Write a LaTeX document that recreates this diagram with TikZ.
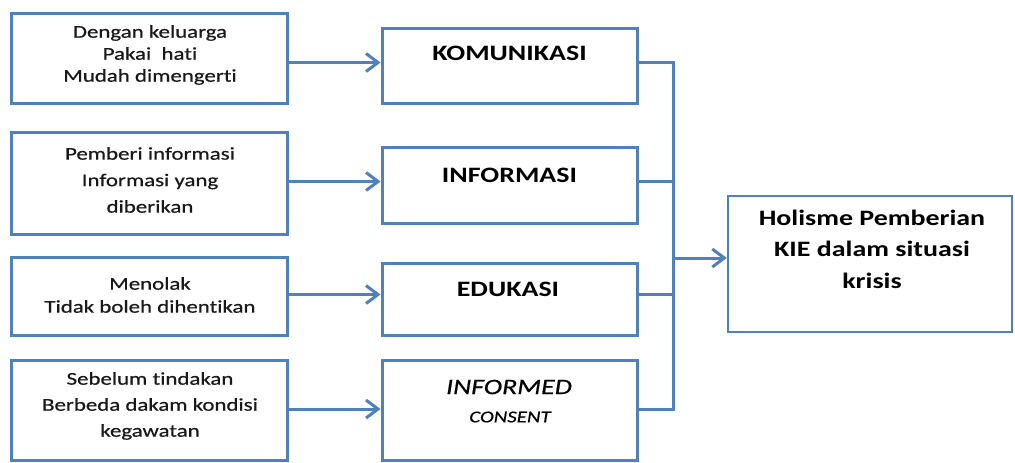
\documentclass[tikz,border=0pt]{standalone}
\usepackage{fontspec}
\setmainfont{Carlito}[FakeStretch=1.27, Ligatures=NoCommon]
\newfontfamily\lfont{Carlito}[FakeStretch=1.27, FakeBold=0.6, Ligatures=NoCommon]
\usetikzlibrary{arrows.meta}
\definecolor{kblue}{HTML}{4F81BD}
\begin{document}
\begin{tikzpicture}[x=1pt,y=-1pt,
  box/.style={draw=kblue, line width=3pt, rectangle, inner sep=0pt},
  lefttext/.style={align=center, inner sep=0pt, text=black!90},
  midtext/.style={align=center, inner sep=0pt, text=black, font=\fontsize{22}{26}\selectfont\bfseries},
  conn/.style={draw=kblue, line width=3pt},
  arr/.style={conn, -{Straight Barb[length=12pt,width=18pt]}}]
\useasboundingbox (0,0) rectangle (1015,463);

% left boxes
\node[box, minimum width=276pt, minimum height=90pt]  (L1) at (149,58) {};
\node[box, minimum width=276pt, minimum height=102pt] (L2) at (149,183) {};
\node[box, minimum width=276pt, minimum height=78pt]  (L3) at (149,296) {};
\node[box, minimum width=276pt, minimum height=100pt] (L4) at (149,410) {};

% middle boxes
\node[box, minimum width=255pt, minimum height=75pt]  (M1) at (509.5,65.5) {};
\node[box, minimum width=255pt, minimum height=76pt]  (M2) at (509.5,185) {};
\node[box, minimum width=255pt, minimum height=72pt]  (M3) at (509.5,299) {};
\node[box, minimum width=255pt, minimum height=100pt] (M4) at (509.5,410) {};

% right box
\node[box, line width=2.4pt, minimum width=284pt, minimum height=136pt] (R) at (870,264) {};

% texts
\node[lefttext, font=\lfont\fontsize{18}{22}\selectfont] (t1) at (150,55) {Dengan keluarga\\Pakai\ \ hati\\Mudah dimengerti};
\node[lefttext, font=\lfont\fontsize{18}{26.5}\selectfont] (t2) at (150,180) {Pemberi informasi\\Informasi yang\\diberikan};
\node[lefttext, font=\lfont\fontsize{18}{23}\selectfont] (t3) at (150,295) {Menolak\\Tidak boleh dihentikan};
\node[lefttext, font=\lfont\fontsize{18}{26}\selectfont] (t4) at (150,406) {Sebelum tindakan\\Berbeda dakam kondisi\\kegawatan};

\node[midtext] (k1) at (509.5,53.5) {KOMUNIKASI};
\node[midtext] (k2) at (509.5,175) {INFORMASI};
\node[midtext] (k3) at (508,289) {EDUKASI};
\node[inner sep=0pt, font=\lfont\fontsize{22}{26}\selectfont\itshape] (k4) at (509,387) {INFORMED};
\node[inner sep=0pt, font=\lfont\fontsize{16.5}{20}\selectfont\itshape] (k5) at (510,417) {CONSENT};

\node[align=center, inner sep=0pt, font=\fontsize{22}{31.5}\selectfont\bfseries] (rt) at (872,249) {Holisme Pemberian\\KIE dalam situasi\\krisis};

% row levels
\coordinate (r1) at (0,62.5);
\coordinate (r2) at (0,181.5);
\coordinate (r3) at (0,294.5);
\coordinate (r4) at (0,409);
\coordinate (bt) at (673,62.5);
\coordinate (bb) at (673,409);
\coordinate (b2) at (673,181.5);
\coordinate (b3) at (673,294.5);
\coordinate (ba) at (673,258);

% arrows left -> middle
\draw[arr] (L1.east |- r1) -- (M1.west |- r1);
\draw[arr] (L2.east |- r2) -- (M2.west |- r2);
\draw[arr] (L3.east |- r3) -- (M3.west |- r3);
\draw[arr] (L4.east |- r4) -- (M4.west |- r4);

% bus
\draw[conn, line join=miter] (M1.east |- bt) -- (bt) -- (bb) -- (M4.east |- bb);
\draw[conn] (M2.east |- b2) -- (b2);
\draw[conn] (M3.east |- b3) -- (b3);
\draw[arr] (ba) -- (R.west |- ba);
\end{tikzpicture}
\end{document}
